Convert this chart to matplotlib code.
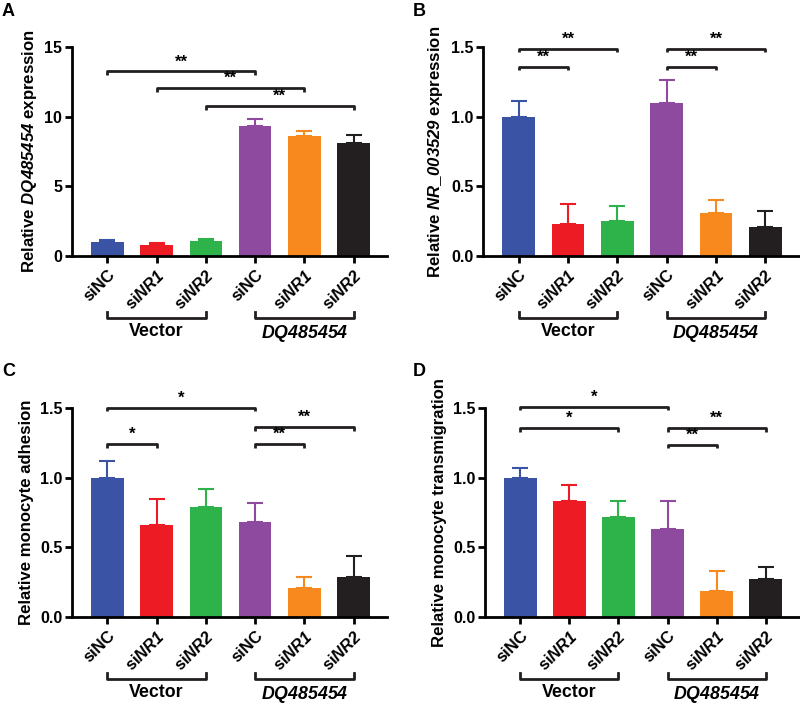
import matplotlib
matplotlib.use("Agg")
import matplotlib.pyplot as plt
import matplotlib.transforms as mtransforms

plt.rcParams['font.family'] = ['Liberation Sans', 'DejaVu Sans']
plt.rcParams['font.weight'] = 'bold'
plt.rcParams['mathtext.fontset'] = 'custom'
plt.rcParams['mathtext.it'] = 'Liberation Sans:italic:bold'
plt.rcParams['mathtext.rm'] = 'Liberation Sans:italic:bold'
plt.rcParams['mathtext.bf'] = 'Liberation Sans:italic:bold'

categories = ['siNC', r'si$\it{NR1}$', r'si$\it{NR2}$', 'siNC', r'si$\it{NR1}$', r'si$\it{NR2}$']
groups = ['Vector', r'$\it{DQ485454}$']
colors = ['#3A53A4', '#ED1C24', '#2DB34A', '#8E4A9E', '#F7891F', '#231F20']

vals_A = [1.0, 0.8, 1.05, 9.35, 8.6, 8.1]
err_A = [0.15, 0.15, 0.2, 0.45, 0.35, 0.55]
vals_B = [1.0, 0.23, 0.25, 1.10, 0.31, 0.21]
err_B = [0.11, 0.14, 0.11, 0.16, 0.09, 0.11]
vals_C = [1.0, 0.66, 0.79, 0.68, 0.21, 0.29]
err_C = [0.12, 0.19, 0.13, 0.14, 0.08, 0.15]
vals_D = [1.0, 0.83, 0.72, 0.63, 0.19, 0.27]
err_D = [0.07, 0.12, 0.11, 0.20, 0.14, 0.09]

# significance: (i, j, y, label)
sig_A = [(0, 3, 13.25, '**'), (1, 4, 12.05, '**'), (2, 5, 10.78, '**')]
sig_B = [(0, 2, 1.486, '**'), (0, 1, 1.36, '**'), (3, 5, 1.486, '**'), (3, 4, 1.36, '**')]
sig_C = [(0, 3, 1.50, '*'), (0, 1, 1.24, '*'), (3, 5, 1.363, '**'), (3, 4, 1.24, '**')]
sig_D = [(0, 3, 1.51, '*'), (0, 2, 1.355, '*'), (3, 5, 1.355, '**'), (3, 4, 1.235, '**')]

ylabels = [r'Relative $\it{DQ485454}$ expression', r'Relative $\it{NR\_003529}$ expression',
           'Relative monocyte adhesion', 'Relative monocyte transmigration']
yticks_A = [0, 5, 10, 15]
yticks_other = [0.0, 0.5, 1.0, 1.5]

fig = plt.figure(figsize=(8, 7.05), dpi=100)
W, H = 800, 705

def px_axes(l, r, top, bottom):
    return fig.add_axes([l / W, 1 - bottom / H, (r - l) / W, (bottom - top) / H])

axA = px_axes(72, 387, 47, 256)
axB = px_axes(483, 799, 47, 256)
axC = px_axes(72, 387, 408, 617)
axD = px_axes(485, 799, 408, 617)

panels = [
    (axA, vals_A, err_A, sig_A, ylabels[0], yticks_A, 15, ['0', '5', '10', '15'], 'A', (2, 12), 0.28),
    (axB, vals_B, err_B, sig_B, ylabels[1], yticks_other, 1.5, ['0.0', '0.5', '1.0', '1.5'], 'B', (413, 12), 0.025),
    (axC, vals_C, err_C, sig_C, ylabels[2], yticks_other, 1.5, ['0.0', '0.5', '1.0', '1.5'], 'C', (2, 372), 0.025),
    (axD, vals_D, err_D, sig_D, ylabels[3], yticks_other, 1.5, ['0.0', '0.5', '1.0', '1.5'], 'D', (413, 372), 0.025),
]

x = list(range(len(categories)))
for ax, vals, errs, sigs, ylab, yt, ymax, ytl, letter, lpos, tick in panels:
    for i in x:
        ax.bar(i, vals[i], width=0.66, color=colors[i], zorder=2)
        ax.errorbar(i, vals[i], yerr=[[0], [errs[i]]], fmt='none', ecolor=colors[i],
                    elinewidth=1.5, capsize=6, capthick=1.5, zorder=1)
    ax.set_xlim(-0.72, 5.68)
    ax.set_ylim(0, ymax)
    ax.set_yticks(yt)
    ax.set_yticklabels(ytl)
    ax.set_xticks(x)
    ax.set_xticklabels(categories, rotation=45, ha='right', rotation_mode='anchor')
    for s in ['top', 'right']:
        ax.spines[s].set_visible(False)
    for s in ['left', 'bottom']:
        ax.spines[s].set_linewidth(2)
    ax.tick_params(axis='both', width=2, length=5, pad=2)
    ax.tick_params(axis='y', labelsize=11.5)
    ax.tick_params(axis='x', labelsize=12, pad=3)
    ax.set_ylabel(ylab, fontsize=12.1, fontweight='bold', labelpad=4)
    # significance brackets
    for i, j, y, lab in sigs:
        ax.plot([i, i, j, j], [y - tick, y, y, y - tick], color='#231F20', lw=2,
                clip_on=False, solid_capstyle='butt')
        ax.text((i + j) / 2, y + 0.01 * ymax, lab, ha='center', va='bottom', fontsize=12,
                fontweight='bold', clip_on=False)
    # group brackets
    trans = mtransforms.blended_transform_factory(ax.transData, ax.transAxes)
    by = -0.295
    for k, (a, b) in enumerate([(0, 2), (3, 5)]):
        ax.plot([a, a, b, b], [by + 0.025, by, by, by + 0.025], color='#231F20', lw=2,
                transform=trans, clip_on=False)
        ax.text((a + b) / 2, by - 0.025, groups[k], ha='center', va='top', fontsize=12.8,
                fontweight='bold', transform=trans)
    fig.text(lpos[0] / W, 1 - lpos[1] / H, letter, fontsize=13, fontweight='bold',
             ha='left', va='center')

fig.savefig('out.png', dpi=100)
